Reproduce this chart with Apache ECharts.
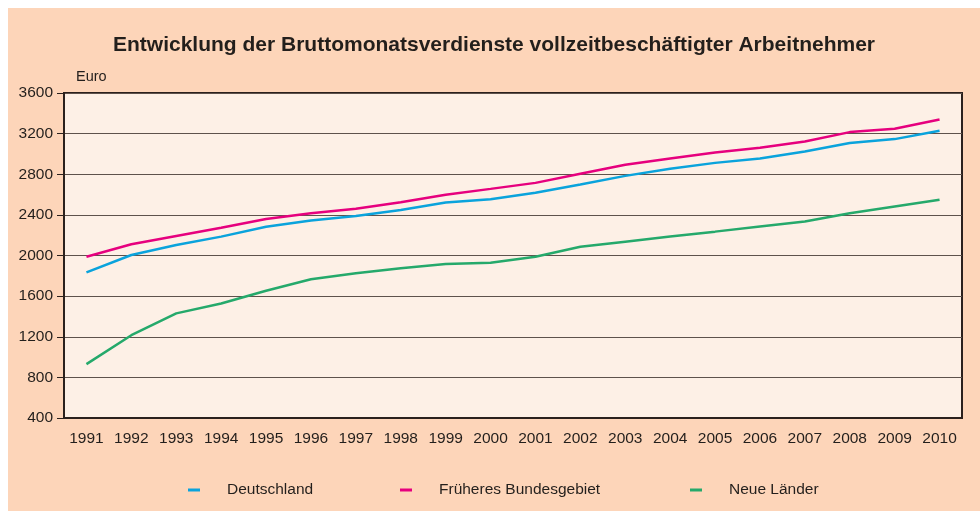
<!DOCTYPE html>
<html>
<head>
<meta charset="utf-8">
<script src="https://cdn.jsdelivr.net/npm/echarts@6/dist/echarts.min.js"></script>
<style>
  html, body { margin: 0; padding: 0; background: #fff; }
  #chart {
    position: absolute;
    left: 8px;
    top: 8px;
    width: 972px;
    height: 503px;
    background: #fdd5b9;
  }
</style>
</head>
<body>
<div id="chart"></div>
<script>
// Jahre
const years = ['1991', '1992', '1993', '1994', '1995', '1996', '1997', '1998', '1999', '2000',
  '2001', '2002', '2003', '2004', '2005', '2006', '2007', '2008', '2009', '2010']
// Bruttomonatsverdienste in Euro
const deutschland = [1834, 2005, 2104, 2186, 2284, 2345, 2390, 2449, 2521, 2554,
  2617, 2700, 2784, 2855, 2912, 2955, 3024, 3107, 3146, 3228]
const fruheresBundesgebiet = [1988, 2110, 2192, 2274, 2360, 2415, 2460, 2525, 2598, 2656,
  2715, 2804, 2893, 2955, 3015, 3060, 3123, 3215, 3248, 3340]
const neueLaender = [930, 1215, 1430, 1528, 1653, 1766, 1825, 1874, 1916, 1929,
  1988, 2087, 2136, 2186, 2235, 2285, 2334, 2416, 2482, 2548]

const font = '"Liberation Sans", Arial, sans-serif'
const textColor = '#231f1c'

const chart = echarts.init(document.getElementById('chart'), null, { renderer: 'canvas' })

// eine Legende pro Reihe, damit die Abstände wie im Original sind
function legendItem (name, left) {
  return {
    data: [name],
    left: left,
    top: 469,
    itemWidth: 12,
    itemHeight: 3,
    icon: 'rect',
    selectedMode: false,
    textStyle: {
      fontFamily: font,
      fontSize: 15.5,
      color: textColor,
      padding: [0, 0, 0, 22]
    }
  }
}

const option = {
  backgroundColor: 'transparent',
  animation: false,
  color: ['#0aa3dc', '#e6007e', '#25a96b'],
  title: {
    text: 'Entwicklung der Bruttomonatsverdienste vollzeitbeschäftigter Arbeitnehmer',
    left: 'center',
    top: 22,
    textStyle: {
      fontFamily: font,
      fontSize: 21,
      fontWeight: 'bold',
      color: textColor
    }
  },
  legend: [
    legendItem('Deutschland', 175),
    legendItem('Früheres Bundesgebiet', 387),
    legendItem('Neue Länder', 677)
  ],
  grid: {
    left: 56,
    right: 18,
    top: 85,
    bottom: 93,
    show: true,
    backgroundColor: '#fdf0e6',
    borderColor: '#2b211d',
    borderWidth: 2
  },
  xAxis: {
    type: 'category',
    data: years,
    boundaryGap: true,
    axisLine: { lineStyle: { color: '#2b211d', width: 2 } },
    axisTick: { show: false },
    axisLabel: {
      fontFamily: font,
      fontSize: 15.5,
      color: textColor,
      margin: 13
    }
  },
  yAxis: {
    type: 'value',
    min: 400,
    max: 3600,
    interval: 400,
    name: 'Euro',
    nameLocation: 'end',
    nameGap: 9,
    nameTextStyle: {
      fontFamily: font,
      fontSize: 14.5,
      color: textColor,
      align: 'left',
      padding: [0, 0, 0, 12]
    },
    axisLine: { show: true, lineStyle: { color: '#2b211d', width: 2 } },
    axisTick: { show: true, length: 7, lineStyle: { color: '#2b211d', width: 1 } },
    axisLabel: {
      fontFamily: font,
      fontSize: 15.5,
      color: textColor,
      margin: 11,
      formatter: function (v) { return String(v) }
    },
    splitLine: { lineStyle: { color: '#5e524c', width: 1.2 } }
  },
  series: [
    {
      name: 'Deutschland',
      type: 'line',
      data: deutschland,
      showSymbol: false,
      lineStyle: { width: 2.5 }
    },
    {
      name: 'Früheres Bundesgebiet',
      type: 'line',
      data: fruheresBundesgebiet,
      showSymbol: false,
      lineStyle: { width: 2.5 }
    },
    {
      name: 'Neue Länder',
      type: 'line',
      data: neueLaender,
      showSymbol: false,
      lineStyle: { width: 2.5 }
    }
  ]
}

chart.setOption(option)
</script>
</body>
</html>
